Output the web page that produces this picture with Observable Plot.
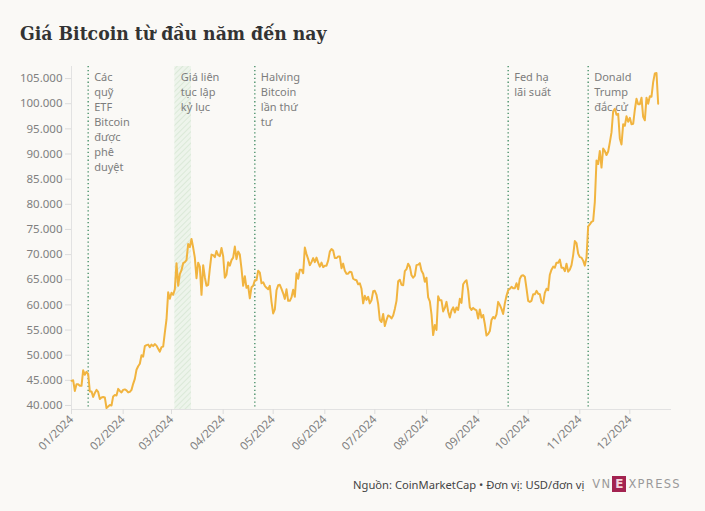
<!DOCTYPE html>
<html>
<head>
<meta charset="utf-8">
<script src="https://cdn.jsdelivr.net/npm/d3@7"></script>
<script src="https://cdn.jsdelivr.net/npm/@observablehq/plot@0.6"></script>
<style>
  html, body { margin: 0; padding: 0; background: #faf9f6; }
  body { width: 705px; height: 511px; position: relative; overflow: hidden; font-family: "Noto Sans", sans-serif; }
  #title { position: absolute; left: 20px; top: 22px; font-family: "DejaVu Serif Condensed", "DejaVu Serif", serif; font-stretch: condensed; font-weight: bold; font-size: 19.2px; color: #333; }
  #chart { position: absolute; left: 0; top: 56px; }
  #footer { position: absolute; left: 353px; top: 476px; font-size: 11.2px; color: #444; white-space: nowrap; display: flex; align-items: center; }
  .logo { display: inline-flex; align-items: center; margin-left: 8px; font-family: "DejaVu Sans", sans-serif; font-size: 11.5px; color: #9a9a9a; letter-spacing: 1.3px; }
  .ebox { display: inline-block; width: 14px; height: 16px; line-height: 16px; text-align: center; background: #a32350; color: #f4d6df; font-weight: bold; margin: 0 2px 0 1px; letter-spacing: 0; font-size: 12px; }
</style>
</head>
<body>
<div id="title">Giá Bitcoin từ đầu năm đến nay</div>
<div id="chart"></div>
<div id="footer"><span>Nguồn: CoinMarketCap • Đơn vị: USD/đơn vị</span><span class="logo"><span>VN</span><span class="ebox">E</span><span>XPRESS</span></span></div>
<script>
// Daily Bitcoin price, thousand USD, one array per month of 2024
const jan = [44.9,45.0,42.9,44.2,44.2,43.9,43.9,47.0,46.1,46.7,46.3,42.8,42.8,41.7,42.5,43.1,42.7,41.3,41.6,41.7,41.6,39.5,39.8,40.1,40.0,41.8,42.1,42.0,43.3,42.9,42.6];
const feb = [43.1,43.2,43.0,42.6,42.7,43.1,44.3,45.3,47.1,47.8,48.3,50.0,49.7,51.8,52.0,52.1,51.6,52.1,51.8,52.2,51.9,51.3,50.7,51.6,51.7,54.5,57.1,62.5,61.2];
const mar = [62.4,62.0,63.1,68.3,63.8,66.1,66.9,68.3,68.5,68.9,72.1,71.5,73.1,71.4,69.4,65.3,68.4,67.6,62.0,67.9,65.5,63.8,64.0,67.2,70.0,69.9,69.5,70.7,69.9,69.7,71.3];
const apr = [69.7,65.4,66.0,68.5,67.8,68.9,69.4,71.6,69.1,70.6,70.0,67.2,63.8,65.7,63.4,63.8,61.3,63.5,63.8,64.9,64.9,66.8,66.4,64.3,64.5,63.8,63.4,63.1,63.8,60.6];
const may = [58.3,59.1,62.9,63.9,64.0,63.2,62.3,61.2,63.1,60.8,60.8,61.5,63.0,61.6,66.3,65.2,67.0,67.0,66.3,71.4,70.1,69.1,67.9,68.5,69.3,68.5,69.4,68.4,67.6,68.4,67.5];
const jun = [67.8,67.8,68.8,70.6,71.1,70.8,69.3,69.3,69.6,69.6,67.3,68.2,66.8,66.2,66.2,66.6,66.5,65.2,65.0,64.9,64.1,64.3,63.2,60.3,61.8,61.0,61.6,60.3,60.9,62.7];
const jul = [62.8,62.0,60.2,57.0,56.6,58.2,55.8,57.0,57.9,57.7,57.3,57.9,59.2,60.8,64.7,65.0,64.0,63.9,66.7,67.1,68.2,67.6,65.9,65.4,65.8,67.9,68.0,68.3,66.8,66.2,64.6];
const aug = [65.4,61.5,60.7,58.1,54.0,56.0,55.0,61.7,60.9,60.9,58.7,59.4,60.6,58.7,57.5,58.9,59.5,58.5,59.5,59.0,61.2,60.4,64.1,64.6,64.9,62.9,59.5,59.0,59.4,59.1,58.9];
const sep = [57.3,59.1,57.5,58.0,56.2,53.9,54.2,54.8,57.0,57.6,57.3,58.1,60.6,60.0,59.2,58.2,60.3,61.8,62.9,63.2,63.6,63.3,63.3,64.3,63.1,65.2,65.8,65.9,65.6,63.3];
const oct = [60.8,60.6,60.8,62.1,62.1,62.8,62.2,62.1,60.6,60.3,62.4,63.2,62.9,66.0,67.0,67.6,67.4,68.4,68.4,69.0,67.4,67.4,66.7,68.2,66.6,67.0,67.9,69.9,72.7,72.3,70.2];
const nov = [69.5,69.4,68.8,67.8,69.4,75.6,76.0,76.5,76.7,80.5,88.7,88.0,90.6,87.3,91.1,90.6,89.8,90.5,92.3,94.3,98.5,99.0,97.8,98.0,93.1,91.9,95.9,95.6,97.5,96.4];
const dec = [97.2,95.9,96.0,98.8,101.0,99.9,99.9,101.2,97.4,96.7,101.2,100.0,101.5,101.4,104.3,106.0,106.1,100.0];

const yTicks = [40000,45000,50000,55000,60000,65000,70000,75000,80000,85000,90000,95000,100000,105000];
const monthTicks = ["2024-01-01","2024-02-01","2024-03-01","2024-04-01","2024-05-01","2024-06-01","2024-07-01","2024-08-01","2024-09-01","2024-10-01","2024-11-01","2024-12-01"];

const eventDates = ["2024-01-11","2024-04-20","2024-09-19","2024-11-06"];
const eventLabels = ["Các\nquỹ\nETF\nBitcoin\nđược\nphê\nduyệt","Halving\nBitcoin\nlần thứ\ntư","Fed hạ\nlãi suất","Donald\nTrump\nđắc cử"];
const recordStart = "2024-03-03";
const recordEnd = "2024-03-13";
const recordLabel = "Giá liên\ntục lập\nkỷ lục";

const months = [jan,feb,mar,apr,may,jun,jul,aug,sep,oct,nov,dec];
const data = months.flatMap((arr, m) => arr.map((v, i) => ({date: new Date(Date.UTC(2024, m, i + 1)), price: v * 1000})));
const events = eventDates.map((d, i) => ({date: new Date(d), label: eventLabels[i]}));
const band = [{x1: new Date(recordStart), x2: new Date(recordEnd), label: recordLabel}];

const fmt = v => v.toLocaleString("de-DE");

const chart = Plot.plot({
  width: 705,
  height: 403,
  marginTop: 10,
  marginBottom: 50,
  marginLeft: 71,
  marginRight: 34,
  style: {background: "transparent", fontFamily: "Noto Sans, sans-serif", fontSize: "11.5px", color: "#808080"},
  x: {type: "utc", domain: [new Date("2024-01-01"), new Date("2024-12-26")]},
  y: {domain: [39200, 107400]},
  marks: [
    Plot.rect(band, {x1: "x1", x2: "x2", fill: "url(#hatch)"}),
    Plot.ruleY([39200], {stroke: "#e2e2e2"}),
    Plot.ruleX([new Date("2024-01-01")], {stroke: "#e2e2e2"}),
    Plot.axisY({ticks: yTicks, tickFormat: fmt, tickSize: 6, tickPadding: 3, stroke: "#dcdcdc", fill: "#808080", label: null}),
    Plot.axisX({ticks: monthTicks.map(d => new Date(d)), tickFormat: d3.utcFormat("%m/%Y"), tickRotate: -45, tickSize: 5, tickPadding: 3, stroke: "#dcdcdc", fill: "#808080", label: null}),
    Plot.ruleX(events, {x: "date", stroke: "#3e8a60", strokeWidth: 1.3, strokeDasharray: "1.3,2.6"}),
    Plot.line(data, {x: "date", y: "price", stroke: "#f1b43f", strokeWidth: 2, strokeLinejoin: "round"}),
    Plot.text(events, {x: "date", text: "label", frameAnchor: "top", textAnchor: "start", lineAnchor: "top", dx: 6, dy: 4, fontSize: 11, lineHeight: 1.364, fill: "#7d7d7d"}),
    Plot.text(band, {x: "x1", text: "label", frameAnchor: "top", textAnchor: "start", lineAnchor: "top", dx: 6, dy: 4, fontSize: 11, lineHeight: 1.364, fill: "#7d7d7d"})
  ]
});

const ns = "http://www.w3.org/2000/svg";
const defs = document.createElementNS(ns, "defs");
defs.innerHTML = '<pattern id="hatch" patternUnits="userSpaceOnUse" width="4" height="4" patternTransform="rotate(45)"><rect width="4" height="4" fill="#edf4eb"/><line x1="0" y1="0" x2="0" y2="4" stroke="#dbe9d8" stroke-width="2"/></pattern>';
chart.insertBefore(defs, chart.firstChild);
document.getElementById("chart").appendChild(chart);
</script>
</body>
</html>
